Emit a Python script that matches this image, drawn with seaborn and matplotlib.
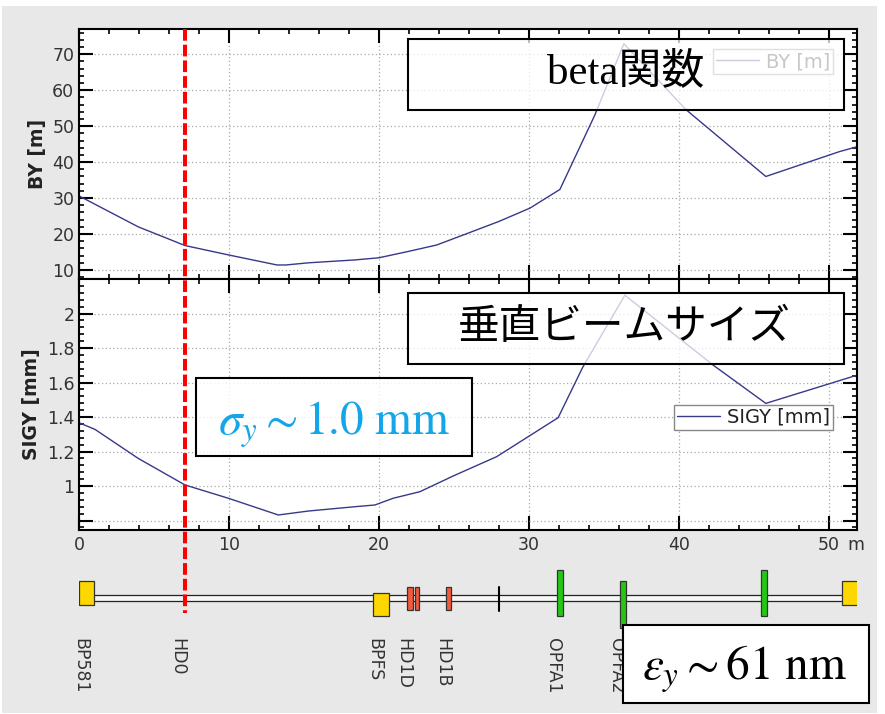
import numpy as np
import pandas as pd
import matplotlib
matplotlib.use("Agg")
import matplotlib.pyplot as plt
import seaborn as sns
from matplotlib.patches import Rectangle
from matplotlib.lines import Line2D
from matplotlib.transforms import blended_transform_factory
from matplotlib.ticker import MultipleLocator

# ---------------- data ----------------
s_by = [0.0, 3.95, 7.07, 9.96, 13.2, 13.8, 15.3, 18.4, 20.0, 22.0, 23.85, 25.6,
        28.0, 30.07, 32.07, 34.4, 36.33, 40.5, 45.8, 50.7, 51.9]
by_m = [30.6, 22.0, 16.8, 14.2, 11.4, 11.4, 12.0, 12.8, 13.4, 15.2, 16.95, 19.7,
        23.5, 27.2, 32.4, 53.1, 72.9, 54.5, 36.0, 42.9, 44.3]

s_sig = [0.0, 1.07, 3.95, 7.07, 9.96, 13.29, 15.3, 18.4, 19.73, 20.95, 22.73, 25.0,
         27.85, 31.95, 33.6, 36.4, 42.3, 45.8, 51.9]
sigy_mm = [1.367, 1.328, 1.160, 1.006, 0.929, 0.832, 0.855, 0.880, 0.890, 0.929, 0.967, 1.06,
           1.17, 1.396, 1.69, 2.106, 1.70, 1.479, 1.643]

x_ticks = [0, 10, 20, 30, 40, 50]
x_tick_labels = ["0", "10", "20", "30", "40", "50"]
by_ticks = [10, 20, 30, 40, 50, 60, 70]
by_tick_labels = ["10", "20", "30", "40", "50", "60", "70"]
sig_ticks = [0.8, 1.0, 1.2, 1.4, 1.6, 1.8, 2.0]
sig_tick_labels = ["", "1", "1.2", "1.4", "1.6", "1.8", "2"]

s_marker = 7.07  # HD0 position (red dashed line)

# lattice elements: s_start, s_end, kind, side
elem_s0 = [0.0, 19.6, 21.9, 22.4, 24.5, 31.9, 36.1, 45.5, 50.9]
elem_s1 = [1.0, 20.7, 22.25, 22.7, 24.8, 32.25, 36.5, 45.9, 51.95]
elem_kind = ["monitor", "monitor", "steer", "steer", "steer", "quad", "quad", "quad", "monitor"]
elem_side = [1, -1, 0, 0, 0, 1, -1, 1, 1]
thin_s = [28.0]
label_names = ["BP581", "HD0", "BPFS", "HD1D", "HD1B", "OPFA1", "OPFA2"]
label_s = [0.07, 6.53, 19.67, 21.6, 24.25, 31.6, 35.8]
s_end = 51.9

# ---------------- style ----------------
sns.set_theme(style="white")
plt.rcParams["font.family"] = ["DejaVu Sans", "Noto Sans CJK JP"]
plt.rcParams["mathtext.fontset"] = "stix"

W, H = 885, 714
fig = plt.figure(figsize=(W / 100, H / 100), dpi=100, facecolor="white")


def fx(px):
    return px / W


def fy(py):
    return 1 - py / H


fig.add_artist(Rectangle((fx(2), fy(713)), fx(875), 707 / H, transform=fig.transFigure,
                         facecolor="#e8e8e8", edgecolor="none", zorder=-10))

L, R = 79, 857.3
ax1 = fig.add_axes([fx(L), fy(279), fx(R - L), (279 - 29) / H])
ax2 = fig.add_axes([fx(L), fy(530), fx(R - L), (530 - 279) / H])
axl = fig.add_axes([fx(L), fy(712), fx(R - L), (712 - 560) / H])

line_color = "#38388a"
tick_col = "#333333"
tick_fs = 12.5
xlim = (0, 51.9)

df_by = pd.DataFrame({"s": s_by, "BY": by_m})
df_sig = pd.DataFrame({"s": s_sig, "SIGY": sigy_mm})
sns.lineplot(data=df_by, x="s", y="BY", ax=ax1, color=line_color, lw=1.0,
             label="BY [m]", sort=False, estimator=None)
sns.lineplot(data=df_sig, x="s", y="SIGY", ax=ax2, color=line_color, lw=1.0,
             label="SIGY [mm]", sort=False, estimator=None)

for ax in (ax1, ax2):
    ax.set_facecolor("white")
    ax.set_xlim(*xlim)
    ax.set_xticks(x_ticks)
    ax.xaxis.set_minor_locator(MultipleLocator(2))
    ax.tick_params(which="major", direction="in", length=10, width=1.5, color="black",
                   top=True, right=True, bottom=True, left=True,
                   labelsize=tick_fs, labelcolor=tick_col, pad=4.0)
    ax.tick_params(axis="y", which="major", pad=3.4)
    ax.tick_params(which="minor", direction="in", length=3.5, width=1.2, color="black",
                   top=True, right=True, bottom=True, left=True)
    ax.grid(True, which="major", linestyle=(0, (1, 2)), color="#a8a8a8", lw=0.9)
    ax.set_axisbelow(True)
    for sp in ax.spines.values():
        sp.set_linewidth(1.5)
        sp.set_color("black")
        sp.set_visible(True)
    ax.set_xlabel("")

ax1.set_ylim(7.5, 77)
ax1.set_yticks(by_ticks)
ax1.set_yticklabels(by_tick_labels)
ax1.yaxis.set_minor_locator(MultipleLocator(2))
ax1.tick_params(labelbottom=False)
ax1.set_ylabel("BY [m]", fontsize=13.5, fontweight="bold", color="#222222")
ax1.yaxis.set_label_coords(-0.0415, 0.5)

ax2.set_ylim(0.745, 2.2)
ax2.set_yticks(sig_ticks)
ax2.set_yticklabels(sig_tick_labels)
ax2.yaxis.set_minor_locator(MultipleLocator(0.04))
ax2.set_xticklabels(x_tick_labels)
ax2.set_ylabel("SIGY [mm]", fontsize=13.5, fontweight="bold", color="#222222")
ax2.yaxis.set_label_coords(-0.049, 0.5)
ax2.annotate("m", xy=(x_ticks[-1], 0), xycoords=("data", "axes fraction"),
             xytext=(27, -4.0 * 100 / 72), textcoords="offset pixels",
             ha="center", va="top", fontsize=tick_fs, color=tick_col, annotation_clip=False)

leg_kw = dict(loc="upper right", borderaxespad=0, fontsize=14, frameon=True,
              fancybox=False, edgecolor="#888888", framealpha=1, borderpad=0.15,
              handlelength=2.2, handletextpad=0.35, labelcolor="#222222")
lg1 = ax1.legend(bbox_to_anchor=(0.9684, 0.9188), **leg_kw)
lg2 = ax2.legend(bbox_to_anchor=(0.9684, 0.498), **leg_kw)
for lg in (lg1, lg2):
    lg.get_frame().set_linewidth(1.0)

# ---------------- lattice ----------------
axl.set_xlim(*xlim)
axl.set_ylim(712, 560)
axl.axis("off")
beam_c = 598.0
axl.add_patch(Rectangle((0, beam_c - 2.7), s_end, 5.4, facecolor="#f6f6f6",
                        edgecolor="#222222", lw=0.9, zorder=2))
colors = {"monitor": "#ffd700", "steer": "#f4593a", "quad": "#22c814"}
heights = {"monitor": 23.3, "steer": 23.0, "quad": 46.4}
for s0, s1, kind, side in zip(elem_s0, elem_s1, elem_kind, elem_side):
    h = heights[kind]
    c = beam_c + 0.7 - side * 5.8
    axl.add_patch(Rectangle((s0, c - h / 2), s1 - s0, h, facecolor=colors[kind],
                            edgecolor="#333333", lw=0.9, zorder=3))
for s in thin_s:
    axl.plot([s, s], [beam_c - 11.5, beam_c + 12.5], color="black", lw=1.5, zorder=3)
axl.plot([s_marker, s_marker], [beam_c - 2.5, beam_c + 3.5], color="black", lw=1.0, zorder=3)
for name, s in zip(label_names, label_s):
    axl.text(s, 638, name, rotation=-90, ha="center", va="top", fontsize=12.5,
             color=tick_col, zorder=3)

# ---------------- red dashed line ----------------
tr = blended_transform_factory(ax1.transData, fig.transFigure)
fig.add_artist(Line2D([s_marker, s_marker], [fy(29), fy(613)], transform=tr, color="red",
                      lw=2.9, linestyle=(0, (2.9, 1.0)), zorder=5))

# ---------------- annotation boxes ----------------
def add_box(x0, y0, x1, y1, alpha):
    fig.add_artist(Rectangle((fx(x0), fy(y1)), fx(x1 - x0), (y1 - y0) / H,
                             transform=fig.transFigure, facecolor=(1, 1, 1, alpha),
                             edgecolor="black", lw=1.5, zorder=10))


add_box(408, 39, 844, 110, 0.75)
fig.text(fx(626), fy(72), "beta関数", ha="center", va="center", fontsize=31,
         family=["Liberation Serif", "Noto Sans CJK JP"], color="black", zorder=11)

add_box(408, 293, 844, 364, 0.75)
fig.text(fx(624), fy(328), "垂直ビームサイズ", ha="center", va="center", fontsize=30,
         family=["Noto Sans CJK JP"], color="black", zorder=11)

add_box(196, 378, 472, 456, 0.8)
fig.text(fx(334), fy(435), r"$\sigma_y \sim 1.0\ \mathrm{mm}$", ha="center", va="baseline",
         fontsize=34, color="#14a6e8", zorder=11)

add_box(623, 625, 869, 703, 1.0)
fig.text(fx(744), fy(680), r"$\varepsilon_y \sim 61\ \mathrm{nm}$", ha="center", va="baseline",
         fontsize=34, color="black", zorder=11)

fig.savefig("out.png", dpi=100, facecolor="white")
